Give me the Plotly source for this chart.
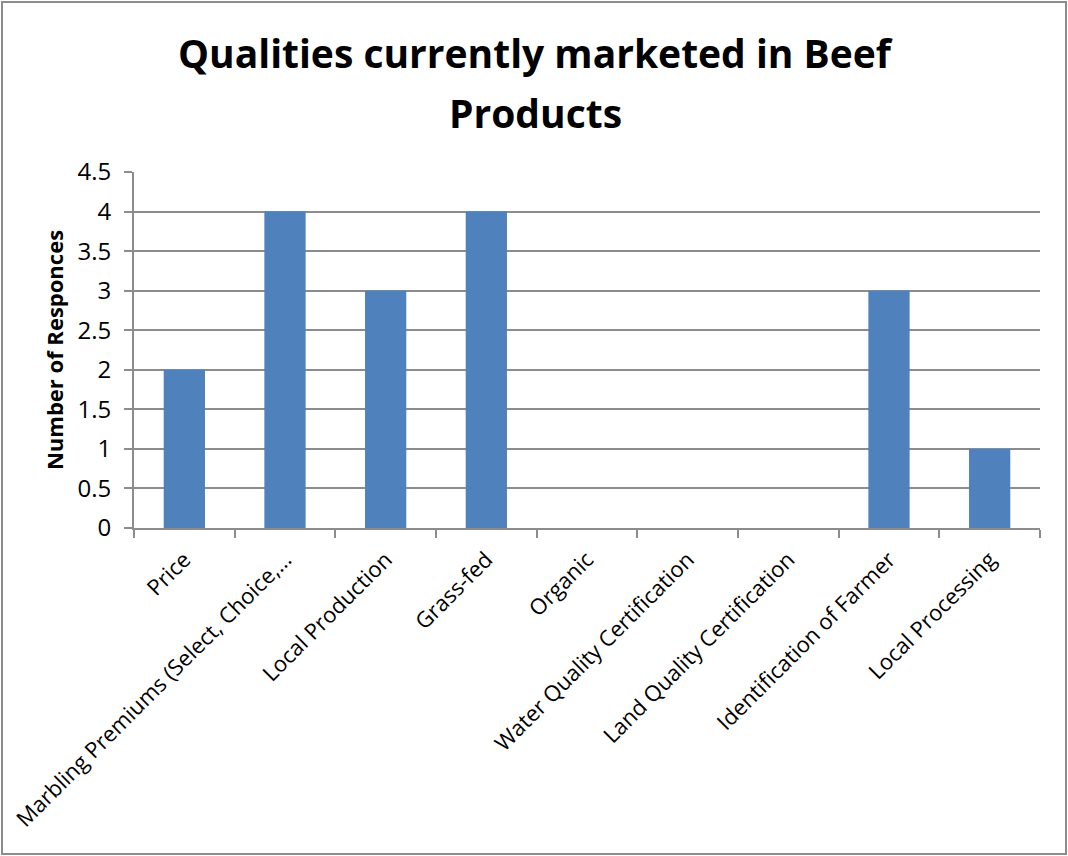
import plotly.graph_objects as go

categories = [
    "Price",
    "Marbling Premiums (Select, Choice,…",
    "Local Production",
    "Grass-fed",
    "Organic",
    "Water Quality Certification",
    "Land Quality Certification",
    "Identification of Farmer",
    "Local Processing",
]
responses = [2, 4, 3, 4, 0, 0, 0, 3, 1]
y_ticks = [0, 0.5, 1, 1.5, 2, 2.5, 3, 3.5, 4, 4.5]
y_tick_text = ["0", "0.5", "1", "1.5", "2", "2.5", "3", "3.5", "4", "4.5"]
title_lines = ["Qualities currently marketed in Beef", "Products"]

FONT = "'Open Sans', sans-serif"
GRID = "#8c8c8c"

# plot-area geometry in pixels
L, R, T, B = 134, 28, 172, 328
PW, PH = 1068 - L - R, 856 - T - B


def px_y(top_px):
    """Convert a distance from the top of the page to paper y."""
    return 1 + (T - top_px) / PH


fig = go.Figure(
    go.Bar(
        x=categories,
        y=responses,
        marker=dict(color="#4F81BD", line=dict(width=0)),
    )
)

title_annotations = [
    dict(
        text=f"<b>{line}</b>",
        xref="paper", yref="paper",
        x=(535 - L) / PW, y=px_y(24 + 60 * i),
        xanchor="center", yanchor="top",
        showarrow=False,
        font=dict(family=FONT, size=39, color="black"),
    )
    for i, line in enumerate(title_lines)
]

fig.update_layout(
    width=1068,
    height=856,
    margin=dict(l=L, r=R, t=T, b=B),
    paper_bgcolor="white",
    plot_bgcolor="white",
    bargap=0.59,
    showlegend=False,
    font=dict(family=FONT, color="black"),
    annotations=title_annotations,
    shapes=[
        dict(
            type="rect", xref="paper", yref="paper",
            x0=-(L - 2) / PW, x1=1 + (R - 2) / PW,
            y0=-(B - 2) / PH, y1=1 + (T - 2) / PH,
            line=dict(color="#8c8c8c", width=2),
        )
    ],
)

fig.update_xaxes(
    type="category",
    automargin=False,
    tickangle=-45,
    tickfont=dict(family=FONT, size=22, color="black"),
    ticklabelstandoff=8,
    showline=True,
    linecolor=GRID,
    linewidth=2,
    ticks="outside",
    tickson="boundaries",
    ticklen=8,
    tickcolor=GRID,
    tickwidth=2,
    showgrid=False,
)

fig.update_yaxes(
    range=[0, 4.5],
    automargin=False,
    tickvals=y_ticks,
    ticktext=y_tick_text,
    tickfont=dict(family=FONT, size=24, color="black"),
    ticklabelstandoff=8,
    showline=True,
    linecolor=GRID,
    linewidth=2,
    ticks="outside",
    ticklen=8,
    tickcolor=GRID,
    tickwidth=2,
    showgrid=True,
    gridcolor=GRID,
    gridwidth=1.5,
    zeroline=False,
    title=dict(
        text="<b>Number of Responces</b>",
        font=dict(family=FONT, size=22, color="black"),
        standoff=8,
    ),
)

fig.write_html("out.html")
